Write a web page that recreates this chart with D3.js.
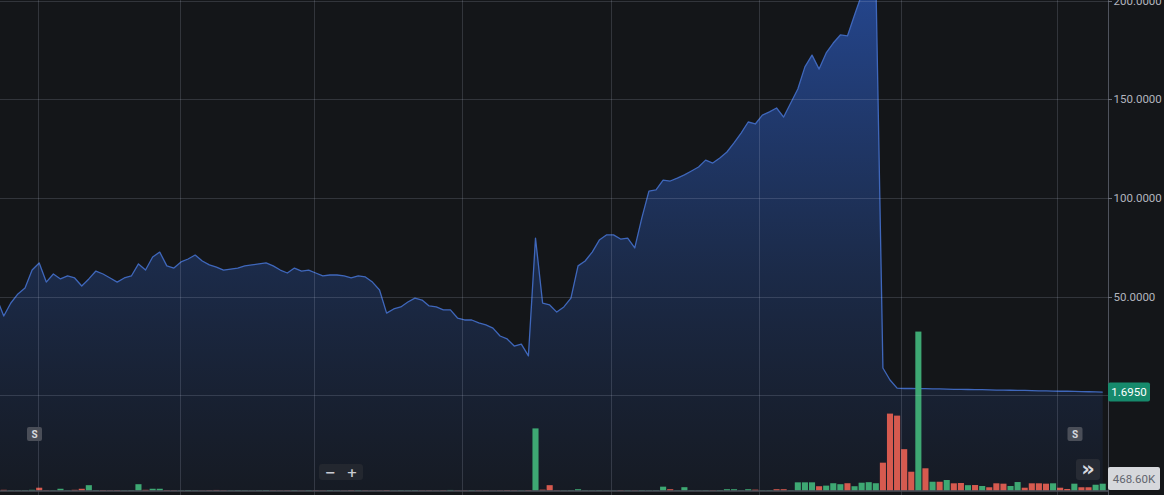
<!DOCTYPE html>
<html>
<head>
<meta charset="utf-8">
<script src="https://cdn.jsdelivr.net/npm/d3@7/dist/d3.min.js"></script>
<style>
  html, body { margin: 0; padding: 0; background: #141619; }
  svg { display: block; }
</style>
</head>
<body>
<svg id="chart" width="1164" height="495"></svg>
<script>
// ---------- DATA ----------
const prices = [
  49.3, 40.2, 46.8, 51.4, 54.4, 63.5, 67.1, 57.4, 61.5, 59.0,
  60.5, 59.5, 55.4, 59.0, 63.0, 61.5, 59.5, 57.4, 59.5, 60.5,
  66.6, 63.5, 70.1, 72.6, 65.6, 64.5, 67.6, 69.1, 71.1, 68.1,
  66.1, 65.0, 63.5, 64.0, 64.5, 65.6, 66.1, 66.6, 67.1, 65.6,
  63.5, 62.0, 64.5, 63.0, 63.5, 62.0, 60.5, 61.0, 61.0, 60.5,
  59.5, 60.5, 60.0, 57.4, 53.4, 41.7, 43.8, 44.8, 47.3, 49.3,
  48.3, 45.3, 44.8, 43.3, 43.3, 39.2, 38.2, 38.2, 36.7, 35.7,
  34.1, 30.1, 28.6, 25.0, 26.0, 20.0, 79.7, 46.8, 45.8, 42.2,
  44.8, 49.3, 65.6, 68.1, 72.6, 78.7, 81.3, 81.3, 79.2, 79.7,
  74.7, 89.9, 103.5, 104.1, 109.1, 108.6, 110.1, 111.7, 113.7, 115.7,
  119.2, 117.7, 120.3, 123.3, 127.9, 132.9, 138.5, 137.5, 142.0, 143.6,
  145.6, 141.0, 148.1, 155.2, 166.4, 172.4, 165.3, 173.5, 178.5, 182.6,
  182.1, 192.7, 203.0, 210.0, 212.0, 13.9, 7.8, 3.7, 3.5, 3.5,
  3.4, 3.4, 3.3, 3.3, 3.2, 3.1, 3.1, 3.0, 2.9, 2.9,
  2.8, 2.7, 2.7, 2.6, 2.5, 2.5, 2.4, 2.3, 2.3, 2.2,
  2.1, 2.1, 2.0, 1.9, 1.85, 1.77, 1.695
];

// volume in thousands
const volumes = [
  30, 60, 30, 30, 35, 60, 200, 30, 30, 130,
  30, 60, 130, 370, 40, 40, 30, 40, 30, 40,
  435, 60, 130, 130, 40, 30, 25, 45, 30, 20,
  35, 50, 30, 25, 40, 30, 20, 35, 45, 30,
  25, 30, 40, 20, 35, 30, 25, 45, 30, 20,
  40, 35, 30, 25, 30, 45, 20, 35, 30, 40,
  25, 30, 20, 35, 50, 30, 25, 40, 30, 35,
  20, 30, 45, 30, 25, 40, 4170, 70, 370, 30,
  25, 35, 100, 30, 25, 40, 30, 20, 35, 30,
  25, 40, 30, 35, 270, 100, 30, 235, 30, 25,
  35, 30, 40, 100, 100, 30, 100, 70, 30, 35,
  100, 100, 30, 560, 560, 560, 300, 340, 500, 435,
  500, 300, 535, 570, 500, 1875, 5160, 5025, 2780, 1270,
  10650, 1500, 600, 600, 715, 495, 515, 370, 380, 315,
  230, 495, 470, 315, 580, 200, 495, 495, 470, 495,
  200, 115, 470, 230, 230, 400, 468.6
];

// 1 = up (green), 0 = down (red)
const volUp = [
  1, 0, 1, 1, 1, 1, 0, 0, 1, 1,
  1, 0, 0, 1, 1, 0, 0, 0, 1, 1,
  1, 0, 1, 1, 0, 0, 1, 1, 1, 0,
  0, 0, 0, 1, 1, 1, 1, 1, 1, 0,
  0, 0, 1, 0, 1, 0, 0, 1, 1, 0,
  0, 1, 0, 0, 0, 0, 1, 1, 1, 1,
  0, 0, 0, 0, 1, 0, 0, 1, 0, 0,
  0, 0, 0, 0, 1, 0, 1, 0, 0, 0,
  1, 1, 1, 1, 1, 1, 1, 1, 0, 1,
  0, 1, 1, 1, 1, 0, 1, 1, 1, 1,
  1, 0, 1, 1, 1, 1, 1, 0, 1, 1,
  0, 0, 1, 1, 1, 1, 0, 1, 1, 1,
  0, 1, 1, 1, 1, 0, 0, 0, 0, 0,
  1, 0, 1, 0, 1, 0, 0, 1, 0, 1,
  0, 0, 0, 1, 1, 0, 0, 0, 0, 1,
  0, 0, 1, 0, 0, 1, 1
];

const priceGridTicks = [0, 50, 100, 150, 200];
const priceLabelTicks = [50, 100, 150, 200];
const timeGridTicks = [5.8, 25.9, 44.8, 65.6, 86.6, 107.5, 127.6, 149.6];
const lastPriceText = "1.6950";
const lastVolumeText = "468.60K";

// ---------- LAYOUT ----------
const W = 1164, H = 495;
const plotRight = 1108;
const volBase = 490.7;

const svg = d3.select("#chart");

const x = d3.scaleLinear().domain([0, prices.length - 1]).range([-3.34, 1102.7]);
const y = d3.scaleLinear().domain([0, 200]).range([395.4, 0.6]);
const yv = d3.scaleLinear().domain([0, 12000]).range([volBase, volBase - 179.3]);
const step = x(1) - x(0);

const defs = svg.append("defs");
defs.append("clipPath").attr("id", "plotClip")
  .append("rect").attr("x", 0).attr("y", 0).attr("width", plotRight).attr("height", 491);

const grad = defs.append("linearGradient").attr("id", "areaGrad")
  .attr("gradientUnits", "userSpaceOnUse")
  .attr("x1", 0).attr("y1", 0).attr("x2", 0).attr("y2", 491);
grad.append("stop").attr("offset", "0%").attr("stop-color", "#2c5cc4").attr("stop-opacity", 0.66);
grad.append("stop").attr("offset", "55%").attr("stop-color", "#2c5ab8").attr("stop-opacity", 0.30);
grad.append("stop").attr("offset", "100%").attr("stop-color", "#2a4f9e").attr("stop-opacity", 0.08);

// background
svg.append("rect").attr("width", W).attr("height", H).attr("fill", "#141619");

const plot = svg.append("g").attr("clip-path", "url(#plotClip)");

// area
const area = d3.area()
  .x((d, i) => x(i))
  .y0(491)
  .y1(d => y(d));
plot.append("path").datum(prices)
  .attr("d", area)
  .attr("fill", "url(#areaGrad)");

// grid lines
const gridG = svg.append("g");
gridG.selectAll("line.h").data(priceGridTicks).enter().append("line")
  .attr("x1", 0).attr("x2", plotRight)
  .attr("y1", d => Math.round(y(d)) + 0.5).attr("y2", d => Math.round(y(d)) + 0.5)
  .attr("stroke", "rgba(200,210,230,0.17)").attr("stroke-width", 1);
gridG.selectAll("line.v").data(timeGridTicks).enter().append("line")
  .attr("x1", d => Math.round(x(d)) + 0.5).attr("x2", d => Math.round(x(d)) + 0.5)
  .attr("y1", 0).attr("y2", H)
  .attr("stroke", "rgba(200,210,230,0.17)").attr("stroke-width", 1);

// price line
const line = d3.line().x((d, i) => x(i)).y(d => y(d));
plot.append("path").datum(prices)
  .attr("d", line)
  .attr("fill", "none")
  .attr("stroke", "#3f67bb")
  .attr("stroke-width", 1.3)
  .attr("stroke-linejoin", "round");

// volume bars
const barW = step - 1;
plot.selectAll("rect.vol").data(volumes).enter().append("rect")
  .attr("x", (d, i) => x(i) - barW / 2)
  .attr("y", d => yv(d))
  .attr("width", barW)
  .attr("height", d => volBase - yv(d))
  .attr("fill", (d, i) => volUp[i] ? "#3ea873" : "#d65a4f");

// time axis border
svg.append("line").attr("x1", 0).attr("x2", plotRight)
  .attr("y1", 491).attr("y2", 491)
  .attr("stroke", "#4d515b").attr("stroke-width", 1.5);

// right price axis
svg.append("line").attr("x1", plotRight + 0.5).attr("x2", plotRight + 0.5)
  .attr("y1", 0).attr("y2", H).attr("stroke", "#4f535d").attr("stroke-width", 1);

const axisG = svg.append("g");
axisG.selectAll("line.tk").data(priceLabelTicks).enter().append("line")
  .attr("x1", plotRight).attr("x2", plotRight + 4)
  .attr("y1", d => Math.round(y(d)) + 0.5).attr("y2", d => Math.round(y(d)) + 0.5)
  .attr("stroke", "#6a6e78");
axisG.selectAll("text").data(priceLabelTicks).enter().append("text")
  .attr("x", plotRight + 5.5)
  .attr("y", d => y(d))
  .attr("dy", "0.36em")
  .attr("fill", "#b2b5be")
  .attr("font-family", "Roboto, 'Liberation Sans', sans-serif")
  .attr("font-size", "11.5px")
  .text(d => d3.format(".4f")(d));

// last price label
const lp = y(prices[prices.length - 1]);
svg.append("rect").attr("x", plotRight).attr("y", lp - 9.5).attr("width", 42).attr("height", 19)
  .attr("rx", 2).attr("fill", "#168a6c");
svg.append("text").attr("x", plotRight + 21).attr("y", lp).attr("dy", "0.36em")
  .attr("text-anchor", "middle").attr("fill", "#ffffff")
  .attr("font-family", "Roboto, 'Liberation Sans', sans-serif").attr("font-size", "11.5px")
  .text(lastPriceText);

// last volume label
svg.append("rect").attr("x", plotRight).attr("y", 467).attr("width", 52).attr("height", 23)
  .attr("rx", 2).attr("fill", "#d6d8dc");
svg.append("text").attr("x", plotRight + 26).attr("y", 478.5).attr("dy", "0.36em")
  .attr("text-anchor", "middle").attr("fill", "#62656e")
  .attr("font-family", "Roboto, 'Liberation Sans', sans-serif").attr("font-size", "11.5px")
  .text(lastVolumeText);

// "S" markers
[{cx: 34.5}, {cx: 1075}].forEach(m => {
  svg.append("rect").attr("x", m.cx - 7.5).attr("y", 427).attr("width", 15).attr("height", 14)
    .attr("rx", 2).attr("fill", "#4a4e58");
  svg.append("text").attr("x", m.cx).attr("y", 434).attr("dy", "0.36em")
    .attr("text-anchor", "middle").attr("fill", "#d6d8de")
    .attr("font-family", "Roboto, 'Liberation Sans', sans-serif").attr("font-size", "10px")
    .attr("font-weight", "bold").text("S");
});

// zoom control
svg.append("rect").attr("x", 319).attr("y", 464).attr("width", 44).attr("height", 16)
  .attr("rx", 3).attr("fill", "#23272f");
svg.append("text").attr("x", 330.5).attr("y", 472).attr("dy", "0.36em")
  .attr("text-anchor", "middle").attr("fill", "#c9ccd3")
  .attr("font-family", "'DejaVu Sans', sans-serif").attr("font-size", "13px").attr("font-weight", "bold")
  .text("−");
svg.append("text").attr("x", 352).attr("y", 472).attr("dy", "0.36em")
  .attr("text-anchor", "middle").attr("fill", "#c9ccd3")
  .attr("font-family", "'DejaVu Sans', sans-serif").attr("font-size", "13px").attr("font-weight", "bold")
  .text("+");

// scroll-to-end button
svg.append("rect").attr("x", 1076).attr("y", 459).attr("width", 24).attr("height", 21)
  .attr("rx", 3).attr("fill", "#272b34");
svg.append("text").attr("x", 1088).attr("y", 468.5).attr("dy", "0.36em")
  .attr("text-anchor", "middle").attr("fill", "#d6d8de")
  .attr("font-family", "'DejaVu Sans', sans-serif").attr("font-size", "21px").attr("font-weight", "bold")
  .text("»");
</script>
</body>
</html>
